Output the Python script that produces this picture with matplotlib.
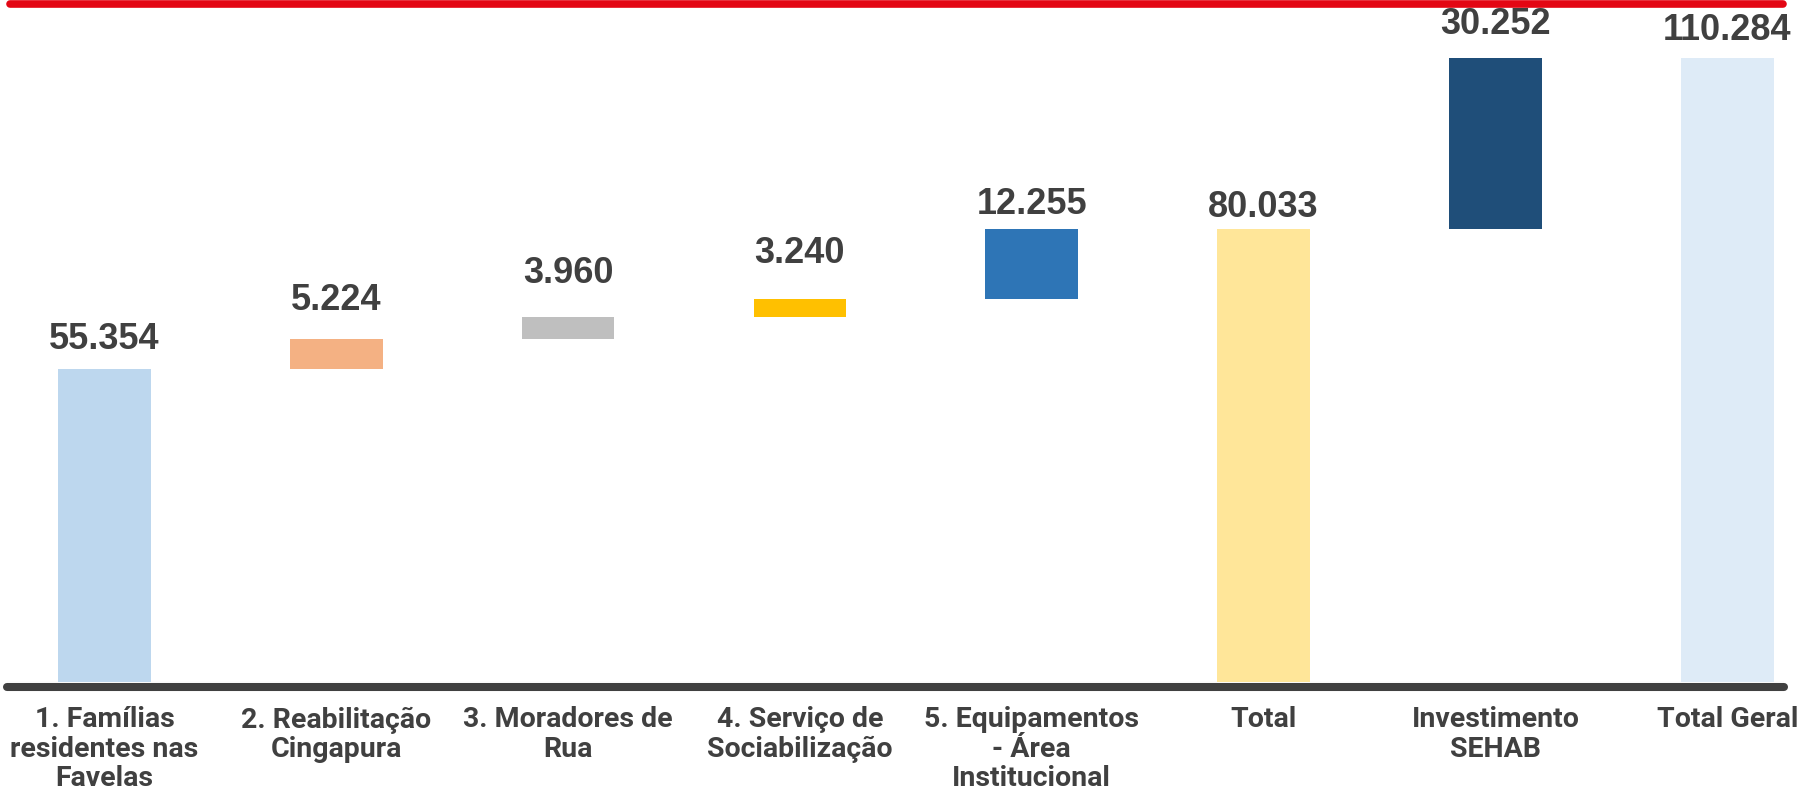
import numpy as np
import matplotlib.pyplot as plt
from matplotlib.lines import Line2D

# categorias e valores (famílias atendidas)
categorias = ["1. Famílias\nresidentes nas\nFavelas", "2. Reabilitação\nCingapura",
              "3. Moradores de\nRua", "4. Serviço de\nSociabilização",
              "5. Equipamentos\n- Área\nInstitucional", "Total",
              "Investimento\nSEHAB", "Total Geral"]
valores = [55354, 5224, 3960, 3240, 12255, 80033, 30252, 110284]
rotulos = ["55.354", "5.224", "3.960", "3.240", "12.255", "80.033", "30.252", "110.284"]
e_total = [False, False, False, False, False, True, False, True]

cores = ["#BDD7EE", "#F4B183", "#BFBFBF", "#FFC000", "#2E75B6",
         "#FFE699", "#1F4E79", "#DEEBF7"]
# distância do rótulo ao topo da barra (pixels)
folga = [12, 21, 26, 28, 7, 4, 16, 10]

# base de cada barra do cascata
bases = []
acum = 0
for v, t in zip(valores, e_total):
    if t:
        bases.append(0)
        acum = v
    else:
        bases.append(acum)
        acum += v

W, H = 1803, 796
fig = plt.figure(figsize=(W / 100, H / 100), dpi=100)
ax = fig.add_axes([7 / W, 1 - 682 / H, (1784 - 7) / W, 682 / H])

x = np.arange(len(valores))
ax.bar(x, valores, bottom=bases, width=0.40, color=cores, zorder=2)

for i in x:
    topo = bases[i] + valores[i]
    ax.annotate(rotulos[i], (i, topo), xytext=(0, folga[i] * 0.72),
                textcoords="offset points", ha="center", va="bottom",
                fontsize=26, fontweight="bold", color="#404040",
                family=["Liberation Sans", "DejaVu Sans"])

ax.set_xlim(-0.4206, 7.245)
ax.set_ylim(0, 110284 * 682 / 623.7)

ax.axhline(0, color="#d9d9d9", lw=0.8, zorder=1)
for s in ["top", "left", "right"]:
    ax.spines[s].set_visible(False)
ax.spines["bottom"].set_position(("outward", 3.6))
ax.spines["bottom"].set_linewidth(5.8)
ax.spines["bottom"].set_color("#404040")
ax.spines["bottom"].set_capstyle("round")

ax.set_yticks([])
ax.set_xticks(x)
ax.set_xticklabels(categorias, fontsize=20.5, color="#404040",
                   family=["Liberation Sans Narrow", "Roboto", "DejaVu Sans"],
                   fontweight="bold", linespacing=1.12)
ax.tick_params(axis="x", length=0, pad=14)

# faixa vermelha no topo
fig.add_artist(Line2D([10 / W, 1783 / W], [1 - 3.5 / H, 1 - 3.5 / H],
                      color="#E30613", lw=5.5, solid_capstyle="round"))

fig.savefig("out.png", dpi=100)
